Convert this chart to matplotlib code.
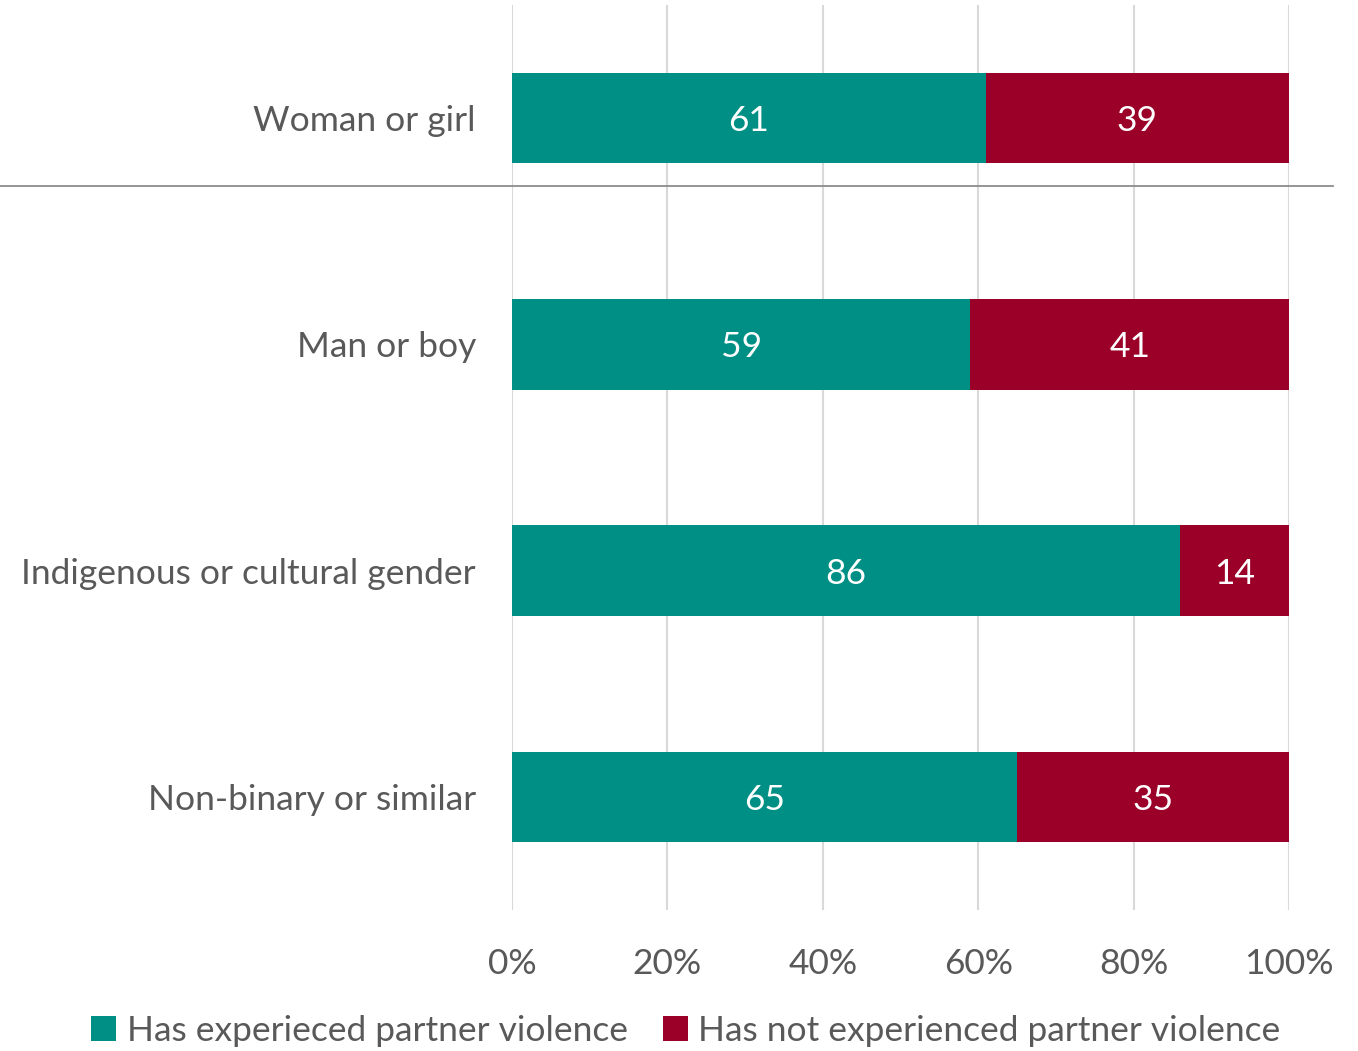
import matplotlib
matplotlib.use("Agg")
import matplotlib.pyplot as plt
import numpy as np

# data
categories = ["Woman or girl", "Man or boy", "Indigenous or cultural gender", "Non-binary or similar"]
experienced = [61, 59, 86, 65]
not_experienced = [39, 41, 14, 35]
series_names = ["Has experieced partner violence", "Has not experienced partner violence"]
x_ticks = [0, 20, 40, 60, 80, 100]
x_tick_labels = ["0%", "20%", "40%", "60%", "80%", "100%"]

teal = "#008F84"
red = "#9B0029"
grey_text = "#595959"

plt.rcParams['font.family'] = ['Lato', 'DejaVu Sans']
fs = 25.5

fig = plt.figure(figsize=(13.58, 10.51), dpi=100)
ax = fig.add_axes([512/1358, 1 - 910/1051, (1289-512)/1358, (910-5)/1051])

y = np.arange(len(categories))
ax.barh(y, experienced, height=0.4, color=teal, label=series_names[0], zorder=3)
ax.barh(y, not_experienced, left=experienced, height=0.4, color=red, label=series_names[1], zorder=3)

for i in range(len(categories)):
    ax.text(experienced[i] / 2, y[i], str(experienced[i]), ha="center", va="center_baseline",
            color="white", fontsize=fs, zorder=4)
    ax.text(experienced[i] + not_experienced[i] / 2, y[i], str(not_experienced[i]),
            ha="center", va="center_baseline", color="white", fontsize=fs, zorder=4)

ax.set_ylim(len(categories) - 0.5, -0.5)
ax.set_xlim(0, 100)
ax.set_yticks(y)
ax.set_yticklabels(categories, color=grey_text, fontsize=fs)
ax.set_xticks(x_ticks)
ax.set_xticklabels(x_tick_labels, color=grey_text, fontsize=fs)
ax.tick_params(axis="both", length=0)
ax.tick_params(axis="y", pad=26)
ax.tick_params(axis="x", pad=27)
ax.xaxis.grid(True, color="#d9d9d9", linewidth=1.5, zorder=0)
for s in ax.spines.values():
    s.set_visible(False)

# separator under the first category
ax.axhline(0.3, xmin=-512/777, xmax=(1333-512)/777, color="#8c8c8c", linewidth=1.3,
           clip_on=False, zorder=2)

leg = fig.legend(loc="center", bbox_to_anchor=(686/1358, 1 - 1031/1051), ncol=2,
                 frameon=False, fontsize=fs, handlelength=0.7, handleheight=0.7,
                 handletextpad=0.3, columnspacing=1.0)
for t in leg.get_texts():
    t.set_color(grey_text)

fig.savefig("out.png", dpi=100)
